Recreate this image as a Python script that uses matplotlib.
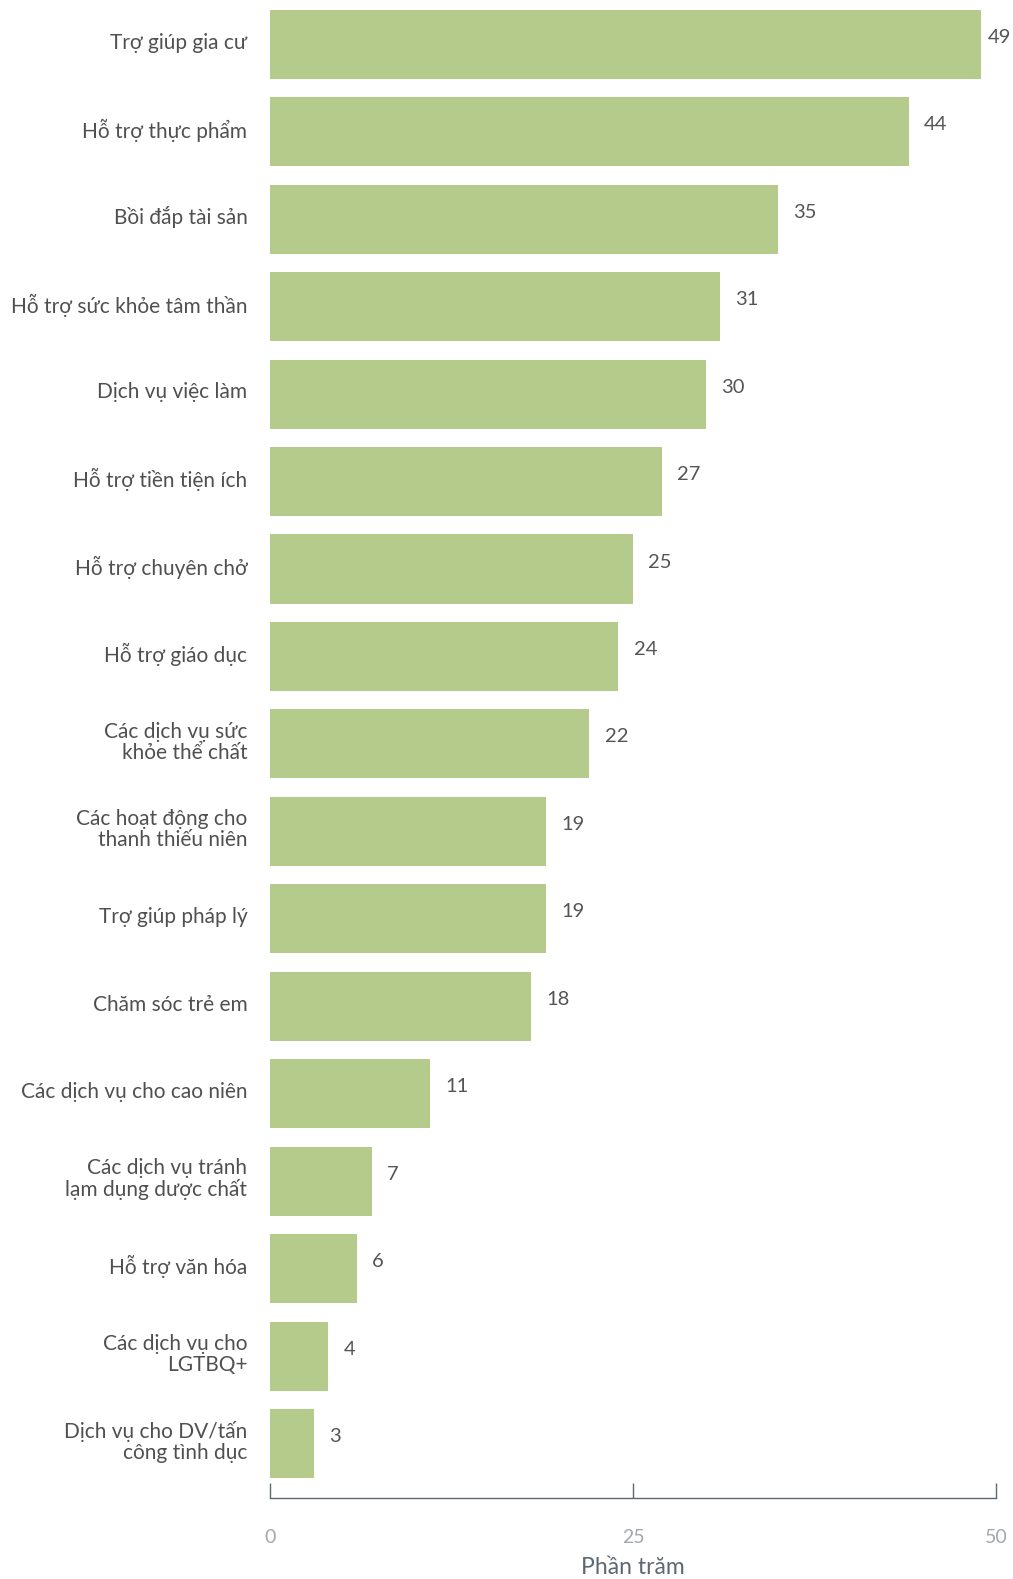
import matplotlib
matplotlib.use("Agg")
import matplotlib.pyplot as plt

categories = [
    "Trợ giúp gia cư",
    "Hỗ trợ thực phẩm",
    "Bồi đắp tài sản",
    "Hỗ trợ sức khỏe tâm thần",
    "Dịch vụ việc làm",
    "Hỗ trợ tiền tiện ích",
    "Hỗ trợ chuyên chở",
    "Hỗ trợ giáo dục",
    "Các dịch vụ sức\nkhỏe thể chất",
    "Các hoạt động cho\nthanh thiếu niên",
    "Trợ giúp pháp lý",
    "Chăm sóc trẻ em",
    "Các dịch vụ cho cao niên",
    "Các dịch vụ tránh\nlạm dụng dược chất",
    "Hỗ trợ văn hóa",
    "Các dịch vụ cho\nLGTBQ+",
    "Dịch vụ cho DV/tấn\ncông tình dục",
]
values = [49, 44, 35, 31, 30, 27, 25, 24, 22, 19, 19, 18, 11, 7, 6, 4, 3]
xticks = [0, 25, 50]
xlabel = "Phần trăm"

plt.rcParams['font.family'] = ['Lato', 'DejaVu Sans']

W, H = 1013, 1579
fig = plt.figure(figsize=(W / 100, H / 100), dpi=100)
ax = fig.add_axes([270 / W, 1 - 1498 / H, 726 / W, 1498 / H])

ypos = list(range(len(values)))
ax.barh(ypos, values, height=0.79, color="#b5cb8c")
ax.set_xlim(0, 50)
ax.set_ylim(16.623, -0.507)

for y, v in zip(ypos, values):
    ax.text(min(v + 1.05, 49.45), y - 0.08, str(v), va="center", ha="left",
            fontsize=14.5, color="#555555")

for y, c in zip(ypos, categories):
    ax.text(-1.55, y - 0.02, c, va="center", ha="right", fontsize=15,
            color="#505050", linespacing=1.05)

ax.set_yticks([])
ax.set_xticks(xticks)
ax.set_xticklabels([str(t) for t in xticks])
ax.tick_params(axis="x", direction="in", length=11, width=1, color="#5d6873",
               pad=22, labelsize=14, labelcolor="#a3a8ad")
for s in ["top", "right", "left"]:
    ax.spines[s].set_visible(False)
ax.spines["bottom"].set_color("#5d6873")
ax.spines["bottom"].set_linewidth(1)
ax.set_xlabel(xlabel, fontsize=16.5, color="#5d6873", labelpad=8)

fig.savefig("out.png", dpi=100)
